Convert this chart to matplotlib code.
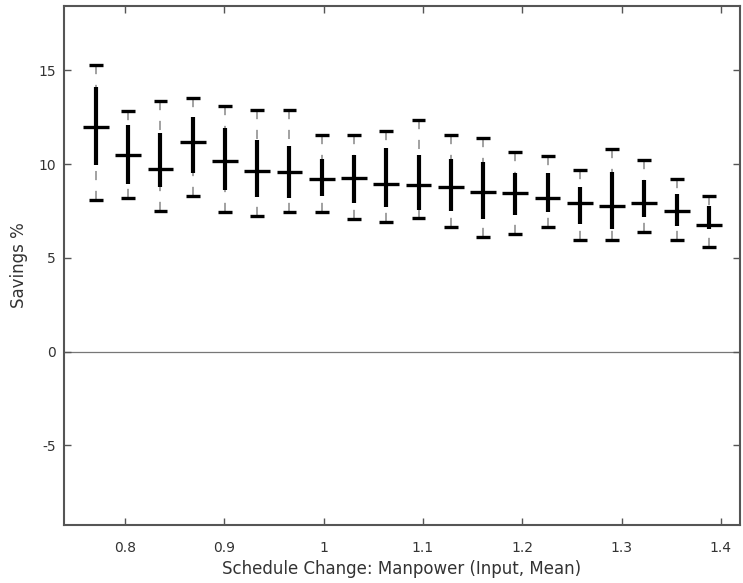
import numpy as np
import matplotlib.pyplot as plt
from matplotlib.ticker import MultipleLocator

plt.rcParams['font.family'] = ['DejaVu Sans']
plt.rcParams['axes.unicode_minus'] = False

# manpower factor (input, mean) for each run group
x_vals = [0.7705, 0.8030, 0.8355, 0.8680, 0.9005, 0.9330, 0.9655, 0.9980,
          1.0305, 1.0630, 1.0955, 1.1280, 1.1605, 1.1930, 1.2255, 1.2580,
          1.2905, 1.3230, 1.3555, 1.3880]

# savings % statistics
whisk_hi = [15.31, 12.81, 13.39, 13.54, 13.09, 12.90, 12.91, 11.56, 11.53, 11.79,
            12.33, 11.53, 11.40, 10.67, 10.41, 9.71, 10.78, 10.23, 9.18, 8.29]
q3 = [14.10, 12.06, 11.67, 12.50, 11.94, 11.31, 10.99, 10.28, 10.46, 10.85,
      10.51, 10.28, 10.10, 9.54, 9.52, 8.80, 9.57, 9.16, 8.38, 7.79]
median = [11.97, 10.46, 9.75, 11.17, 10.14, 9.61, 9.57, 9.18, 9.27, 8.95,
          8.89, 8.77, 8.50, 8.47, 8.18, 7.91, 7.79, 7.91, 7.49, 6.76]
q1 = [9.93, 8.95, 8.77, 9.53, 8.64, 8.23, 8.18, 8.29, 7.91, 7.70,
      7.56, 7.49, 7.08, 7.26, 7.43, 6.81, 6.55, 7.17, 6.69, 6.55]
whisk_lo = [8.11, 8.18, 7.52, 8.32, 7.47, 7.22, 7.47, 7.43, 7.08, 6.90,
            7.13, 6.63, 6.10, 6.26, 6.63, 5.96, 5.96, 6.40, 5.96, 5.57]

x = np.array(x_vals)
text_col = '#333333'

fig = plt.figure(figsize=(7.43, 5.83), dpi=100)
ax = fig.add_axes([0.0861, 0.1000, 0.9099, 0.8897])

# zero line
ax.axhline(0, color='#777777', linewidth=0.9, zorder=1)

# whiskers (dashed, drawn from caps toward the box)
for xi, hi, top, lo, bot in zip(x, whisk_hi, q3, whisk_lo, q1):
    ax.plot([xi, xi], [hi, top], color='#888888', linewidth=1.1,
            linestyle=(0, (6, 7)), zorder=2)
    ax.plot([xi, xi], [lo, bot], color='#888888', linewidth=1.1,
            linestyle=(0, (6, 7)), zorder=2)

# caps
cap_w = 0.007
ax.hlines(whisk_hi, x - cap_w, x + cap_w, color='black', linewidth=2.4, zorder=3)
ax.hlines(whisk_lo, x - cap_w, x + cap_w, color='black', linewidth=2.4, zorder=3)

# boxes as thick bars, medians as wide ticks
ax.vlines(x, q1, q3, color='black', linewidth=3.0, zorder=3)
med_w = 0.013
ax.hlines(median, x - med_w, x + med_w, color='black', linewidth=2.4, zorder=4)

ax.set_xlim(0.7383, 1.4194)
ax.set_ylim(-9.23, 18.43)
ax.yaxis.set_major_locator(MultipleLocator(5))
ax.set_xticks([0.8, 0.9, 1.0, 1.1, 1.2, 1.3, 1.4])
ax.set_xticklabels(['0.8', '0.9', '1', '1.1', '1.2', '1.3', '1.4'])

ax.tick_params(direction='in', length=5, width=1, color='#555555',
               top=True, right=True, labelsize=10, labelcolor=text_col)
ax.tick_params(axis='x', pad=12)
ax.tick_params(axis='y', pad=6)
for s in ax.spines.values():
    s.set_color('#555555')
    s.set_linewidth(1.5)

ax.set_xlabel('Schedule Change: Manpower (Input, Mean)', fontsize=12,
              color=text_col, labelpad=3)
ax.set_ylabel('Savings %', fontsize=12, color=text_col, labelpad=7)

plt.savefig('out.png', dpi=100)
